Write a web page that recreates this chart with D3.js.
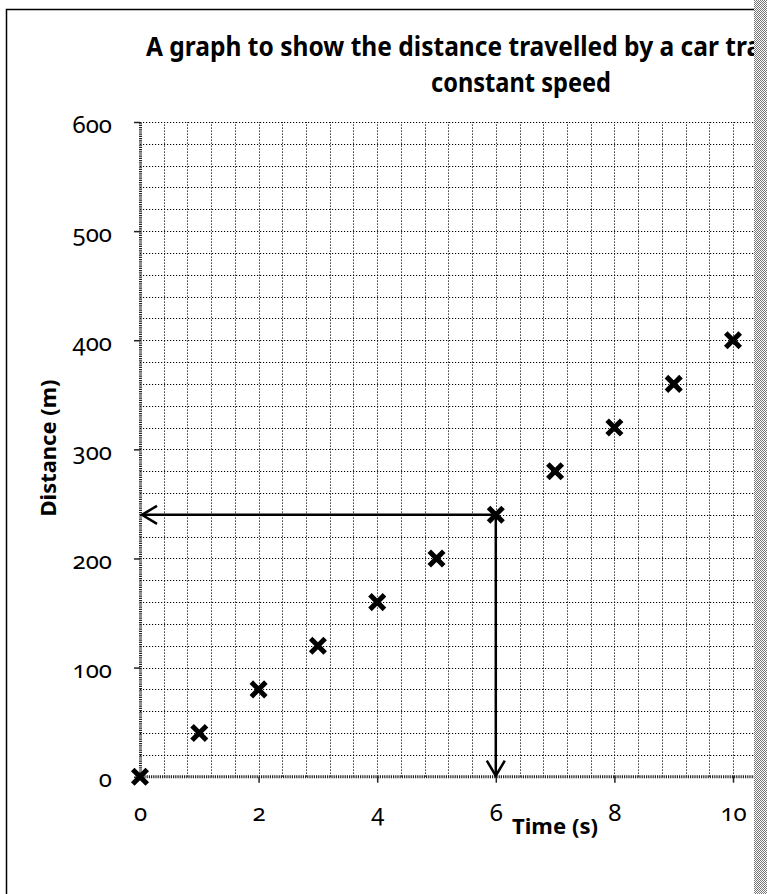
<!DOCTYPE html>
<html>
<head>
<meta charset="utf-8">
<script src="https://cdn.jsdelivr.net/npm/d3@7"></script>
<style>
  html, body { margin: 0; padding: 0; background: #fff; overflow: hidden; }
  svg { display: block; }
  text { font-family: "Noto Sans", "Open Sans", sans-serif; fill: #000; }
  .num { font-variant-numeric: oldstyle-nums; font-feature-settings: "onum" 1; }
</style>
</head>
<body>
<script>
// Measurements: time (s) and distance (m) of a car at constant speed
const times = [0, 1, 2, 3, 4, 5, 6, 7, 8, 9, 10];
const distances = [0, 40, 80, 120, 160, 200, 240, 280, 320, 360, 400];
const xTickValues = [0, 2, 4, 6, 8, 10];
const yTickValues = [0, 100, 200, 300, 400, 500, 600];
// Reading taken off the graph at t = 6 s
const readTime = 6;
const readDistance = 240;

const titleLines = [
  "A graph to show the distance travelled by a car travelling at a",
  "constant speed"
];
const xTitle = "Time (s)";
const yTitle = "Distance (m)";

const W = 767, H = 894;
const svg = d3.select("body").append("svg").attr("width", W).attr("height", H);

// checker pattern for the right-hand margin strip
const defs = svg.append("defs");
const pat = defs.append("pattern").attr("id", "dither")
  .attr("width", 2).attr("height", 2).attr("patternUnits", "userSpaceOnUse");
pat.append("rect").attr("width", 2).attr("height", 2).attr("fill", "#fff");
pat.append("rect").attr("x", 0).attr("y", 0).attr("width", 1).attr("height", 1).attr("fill", "#777");
pat.append("rect").attr("x", 1).attr("y", 1).attr("width", 1).attr("height", 1).attr("fill", "#777");

const x = d3.scaleLinear().domain([0, 10]).range([140, 733]);
const y = d3.scaleLinear().domain([0, 600]).range([776.7, 122]);
const xMax = 11.6; // plot area continues past the last labelled tick

// chart frame
svg.append("rect").attr("x", 6.5).attr("y", 9.5).attr("width", 1100).attr("height", 1000)
  .attr("fill", "none").attr("stroke", "#000").attr("stroke-width", 1.5);

// dotted gridlines every 0.4 s and 20 m
const grid = svg.append("g").attr("stroke", "#000").attr("stroke-width", 1)
  .attr("stroke-dasharray", "1.2,1.8").attr("fill", "none");
d3.range(20, 600 + 1e-9, 20).forEach(v => {
  grid.append("line").attr("x1", x(0)).attr("x2", x(xMax))
    .attr("y1", Math.round(y(v)) + 0.5).attr("y2", Math.round(y(v)) + 0.5);
});
d3.range(0.4, xMax + 1e-9, 0.4).forEach(v => {
  grid.append("line").attr("y1", y(0)).attr("y2", y(600))
    .attr("x1", Math.round(x(v)) + 0.5).attr("x2", Math.round(x(v)) + 0.5);
});

// axes
const axisStyle = g => {
  g.select(".domain").attr("stroke", "#222").attr("stroke-width", 3).attr("stroke-dasharray", "1.2,1");
  g.selectAll(".tick line").attr("stroke", "#222").attr("stroke-width", 1.5);
  g.selectAll(".tick text").attr("class", "num").attr("font-family", null).style("font-size", "24px");
};
const xAxis = d3.axisBottom(x).tickValues(xTickValues).tickSize(6).tickSizeOuter(0).tickPadding(21);
const yAxis = d3.axisLeft(y).tickValues(yTickValues).tickSize(6).tickSizeOuter(0).tickPadding(22);

const gx = svg.append("g").attr("transform", `translate(0,${y(0)})`).call(xAxis);
gx.select(".domain").attr("d", `M${x(0)},0H${x(xMax)}`);
gx.call(axisStyle);
gx.selectAll(".tick").filter(d => d === 0).select("line").remove();

const gy = svg.append("g").attr("transform", `translate(${x(0)},0)`).call(yAxis);
gy.call(axisStyle);
gy.selectAll(".tick text").attr("dy", "0.42em");

// reading lines with open arrowheads
const rx = x(readTime), ry = y(readDistance);
const arrows = svg.append("g").attr("stroke", "#000").attr("stroke-width", 2.5).attr("fill", "none");
arrows.append("line").attr("x1", rx).attr("y1", ry).attr("x2", x(0) + 2).attr("y2", ry);
arrows.append("path").attr("d", `M${x(0) + 17},${ry - 9}L${x(0) + 2},${ry}L${x(0) + 17},${ry + 9}`);
arrows.append("line").attr("x1", rx).attr("y1", ry).attr("x2", rx).attr("y2", y(0) - 1);
arrows.append("path").attr("d", `M${rx - 9},${y(0) - 16}L${rx},${y(0) - 1}L${rx + 9},${y(0) - 16}`);

// data points as crosses
svg.append("g").selectAll("path").data(times).join("path")
  .attr("transform", (t, i) => `translate(${x(t)},${y(distances[i])})`)
  .attr("d", "M-5.5,-5.5L5.5,5.5M5.5,-5.5L-5.5,5.5")
  .attr("stroke", "#000").attr("stroke-width", 5).attr("stroke-linecap", "square");

// titles
const tcx = 521;
svg.append("text").attr("x", tcx).attr("y", 56).attr("text-anchor", "middle")
  .style("font-size", "26px").style("font-weight", "bold").text(titleLines[0])
  .attr("textLength", 750).attr("lengthAdjust", "spacingAndGlyphs");
svg.append("text").attr("x", tcx).attr("y", 92).attr("text-anchor", "middle")
  .style("font-size", "26px").style("font-weight", "bold").text(titleLines[1])
  .attr("textLength", 180).attr("lengthAdjust", "spacingAndGlyphs");

svg.append("text").attr("x", 555).attr("y", 834).attr("text-anchor", "middle")
  .style("font-size", "22px").style("font-weight", "bold").text(xTitle)
  .attr("textLength", 86).attr("lengthAdjust", "spacingAndGlyphs");
svg.append("text").attr("transform", `translate(56,448) rotate(-90)`).attr("text-anchor", "middle")
  .style("font-size", "22px").style("font-weight", "bold").text(yTitle)
  .attr("textLength", 137).attr("lengthAdjust", "spacingAndGlyphs");

// right-hand margin strip
svg.append("rect").attr("x", 754).attr("y", 0).attr("width", W - 754).attr("height", H)
  .attr("fill", "url(#dither)");
</script>
</body>
</html>
